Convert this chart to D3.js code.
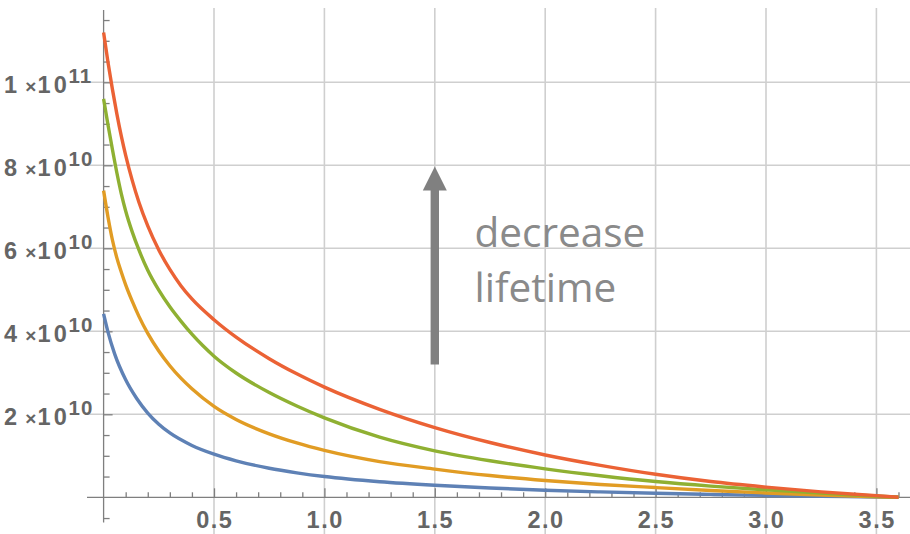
<!DOCTYPE html>
<html>
<head>
<meta charset="utf-8">
<script src="https://cdn.jsdelivr.net/npm/d3@7"></script>
<style>
  html, body { margin: 0; padding: 0; background: #fff; }
  svg { display: block; }
</style>
</head>
<body>
<svg id="chart" width="910" height="534"></svg>
<script>
// Time (x) and the four decay curves; values in units of 1e10
const blueX   = [0, 0.02, 0.05, 0.1, 0.15, 0.2, 0.25, 0.3, 0.4, 0.5, 0.6, 0.75, 0.875, 1.0, 1.25, 1.5, 1.75, 2.0, 2.25, 2.5, 2.75, 3.0, 3.25, 3.5, 3.6];
const blueY   = [4.42, 3.98, 3.455, 2.83, 2.38, 2.03, 1.76, 1.55, 1.25, 1.04, 0.88, 0.70, 0.59, 0.50, 0.375, 0.29, 0.225, 0.17, 0.13, 0.097, 0.07, 0.045, 0.025, 0.008, 0];

const orangeX = [0, 0.02, 0.04, 0.06, 0.08, 0.1, 0.13, 0.16, 0.2, 0.25, 0.3, 0.35, 0.4, 0.5, 0.6, 0.75, 0.875, 1.0, 1.25, 1.5, 1.75, 2.0, 2.25, 2.5, 2.75, 3.0, 3.25, 3.5, 3.6];
const orangeY = [7.39, 6.75, 6.20, 5.77, 5.43, 5.12, 4.72, 4.36, 3.95, 3.525, 3.17, 2.87, 2.615, 2.19, 1.875, 1.53, 1.31, 1.13, 0.86, 0.68, 0.525, 0.405, 0.31, 0.235, 0.165, 0.105, 0.055, 0.015, 0];

const greenX  = [0, 0.02, 0.04, 0.06, 0.08, 0.1, 0.13, 0.16, 0.2, 0.25, 0.3, 0.35, 0.4, 0.45, 0.5, 0.6, 0.75, 0.875, 1.0, 1.25, 1.5, 1.75, 2.0, 2.25, 2.5, 2.75, 3.0, 3.25, 3.5, 3.6];
const greenY  = [9.60, 8.97, 8.38, 7.82, 7.32, 6.90, 6.39, 5.96, 5.47, 4.99, 4.59, 4.245, 3.93, 3.65, 3.40, 2.995, 2.525, 2.20, 1.915, 1.45, 1.12, 0.88, 0.685, 0.52, 0.38, 0.27, 0.18, 0.10, 0.03, 0];

const redX    = [0, 0.02, 0.04, 0.06, 0.08, 0.1, 0.13, 0.16, 0.2, 0.25, 0.3, 0.35, 0.4, 0.5, 0.6, 0.75, 0.875, 1.0, 1.25, 1.5, 1.75, 2.0, 2.25, 2.5, 2.75, 3.0, 3.25, 3.5, 3.6];
const redY    = [11.2, 10.48, 9.83, 9.24, 8.71, 8.24, 7.63, 7.11, 6.54, 5.96, 5.49, 5.10, 4.78, 4.28, 3.86, 3.34, 2.975, 2.655, 2.12, 1.68, 1.32, 1.02, 0.77, 0.555, 0.38, 0.245, 0.13, 0.04, 0];

const seriesColors = ["#5E81B5", "#E19C24", "#8FB032", "#EB6235"];

// Ticks
const xTicks = [0.5, 1.0, 1.5, 2.0, 2.5, 3.0, 3.5];
const xTickLabels = ["0.5", "1.0", "1.5", "2.0", "2.5", "3.0", "3.5"];
const yTicks = [2e10, 4e10, 6e10, 8e10, 1e11];
const yTickMantissa = ["2", "4", "6", "8", "1"];
const yTickExponent = ["10", "10", "10", "10", "11"];

const annotationLines = ["decrease", "lifetime"];

const svg = d3.select("#chart");
const W = 910, H = 534;

const x = d3.scaleLinear().domain([0, 3.5]).range([103.6, 876.4]);
const y = d3.scaleLinear().domain([0, 1e11]).range([497.3, 82.3]);

const xMin = x.invert(87);
const yMin = y.invert(522.5), yTop = y.invert(10);

// Grid
const grid = svg.append("g").attr("stroke", "#cfcfcf").attr("stroke-width", 1.6);
grid.selectAll("line.v").data(xTicks).join("line")
  .attr("x1", d => x(d)).attr("x2", d => x(d))
  .attr("y1", 8).attr("y2", H);
grid.selectAll("line.h").data(yTicks).join("line")
  .attr("x1", x(xMin)).attr("x2", W)
  .attr("y1", d => y(d)).attr("y2", d => y(d));

// Axis lines
const axisColor = "#7f7f7f";
svg.append("line").attr("x1", x(xMin)).attr("x2", W).attr("y1", y(0)).attr("y2", y(0))
  .attr("stroke", axisColor).attr("stroke-width", 1.3);
svg.append("line").attr("x1", x(0)).attr("x2", x(0)).attr("y1", y(yTop)).attr("y2", y(yMin))
  .attr("stroke", axisColor).attr("stroke-width", 1.3);

// x ticks: minor every 0.1, major every 0.5, pointing up
const xMinor = d3.range(1, 37).map(i => i / 10).filter(v => Math.abs(v * 2 - Math.round(v * 2)) > 1e-6);
const xAxisMinor = d3.axisBottom(x).tickValues(xMinor).tickSize(-5).tickFormat("").tickSizeOuter(0);
const xAxisMajor = d3.axisBottom(x).tickValues(xTicks).tickSize(-9).tickFormat("").tickSizeOuter(0);
[xAxisMinor, xAxisMajor].forEach(ax => {
  const g = svg.append("g").attr("transform", `translate(0,${y(0)})`).call(ax);
  g.select(".domain").remove();
  g.selectAll(".tick line").attr("stroke", axisColor).attr("stroke-width", 1.3);
});

// y ticks: minor every 5e9, major every 2e10, pointing right
const yMinor = d3.range(-1, 24).map(i => i * 5e9).filter(v => v % 2e10 !== 0);
const yAxisMinor = d3.axisLeft(y).tickValues(yMinor).tickSize(-6).tickFormat("").tickSizeOuter(0);
const yAxisMajor = d3.axisLeft(y).tickValues(yTicks).tickSize(-9).tickFormat("").tickSizeOuter(0);
[yAxisMinor, yAxisMajor].forEach(ax => {
  const g = svg.append("g").attr("transform", `translate(${x(0)},0)`).call(ax);
  g.select(".domain").remove();
  g.selectAll(".tick line").attr("stroke", axisColor).attr("stroke-width", 1.3);
});

// Tick labels
const labelFont = "'Liberation Sans', Arial, sans-serif";
const labelColor = "#656565";
svg.append("g").selectAll("text").data(xTicks).join("text")
  .attr("x", d => x(d) + 0.8).attr("y", 528.3)
  .attr("text-anchor", "middle")
  .attr("font-family", labelFont).attr("font-weight", "bold")
  .attr("font-size", 23.5).attr("letter-spacing", 1.5).attr("fill", labelColor)
  .text((d, i) => xTickLabels[i]);

const yl = svg.append("g").selectAll("text").data(yTicks).join("text")
  .attr("y", d => y(d) + 10.4)
  .attr("font-family", labelFont).attr("font-weight", "bold")
  .attr("font-size", 23.5).attr("fill", labelColor);
yl.append("tspan").attr("x", 4).text((d, i) => yTickMantissa[i]);
yl.append("tspan").attr("x", 25.2).attr("font-size", 19).text("×");
yl.append("tspan").attr("x", 37.5).attr("letter-spacing", 3.2).text("10");
yl.append("tspan").attr("x", 68.5).attr("dy", -9.7).attr("font-size", 20.5).attr("letter-spacing", 1).text((d, i) => yTickExponent[i]);

// Curves
const line = d3.line().x(d => x(d[0])).y(d => y(d[1] * 1e10)).curve(d3.curveMonotoneX);
const series = [
  d3.zip(blueX, blueY),
  d3.zip(orangeX, orangeY),
  d3.zip(greenX, greenY),
  d3.zip(redX, redY)
];
svg.append("g").selectAll("path").data(series).join("path")
  .attr("d", line)
  .attr("fill", "none")
  .attr("stroke", (d, i) => seriesColors[i])
  .attr("stroke-width", 3.4)
  .attr("stroke-linejoin", "round");

// Arrow annotation
const ax0 = x(1.5);
const arrowBase = y(3.2e10), arrowTip = y(7.97e10);
const arrow = svg.append("g").attr("fill", "#808080");
arrow.append("rect")
  .attr("x", ax0 - 4.2).attr("width", 8.4)
  .attr("y", arrowTip + 22).attr("height", arrowBase - arrowTip - 22);
arrow.append("path")
  .attr("d", `M${ax0},${arrowTip} L${ax0 + 12},${arrowTip + 24} L${ax0 - 12},${arrowTip + 24} Z`);

svg.append("g").selectAll("text").data(annotationLines).join("text")
  .attr("x", 474.5).attr("y", (d, i) => 246.7 + i * 55)
  .attr("font-family", "'Open Sans', sans-serif")
  .attr("font-size", 40.5).attr("fill", "#8a8a8a")
  .text(d => d);
</script>
</body>
</html>
